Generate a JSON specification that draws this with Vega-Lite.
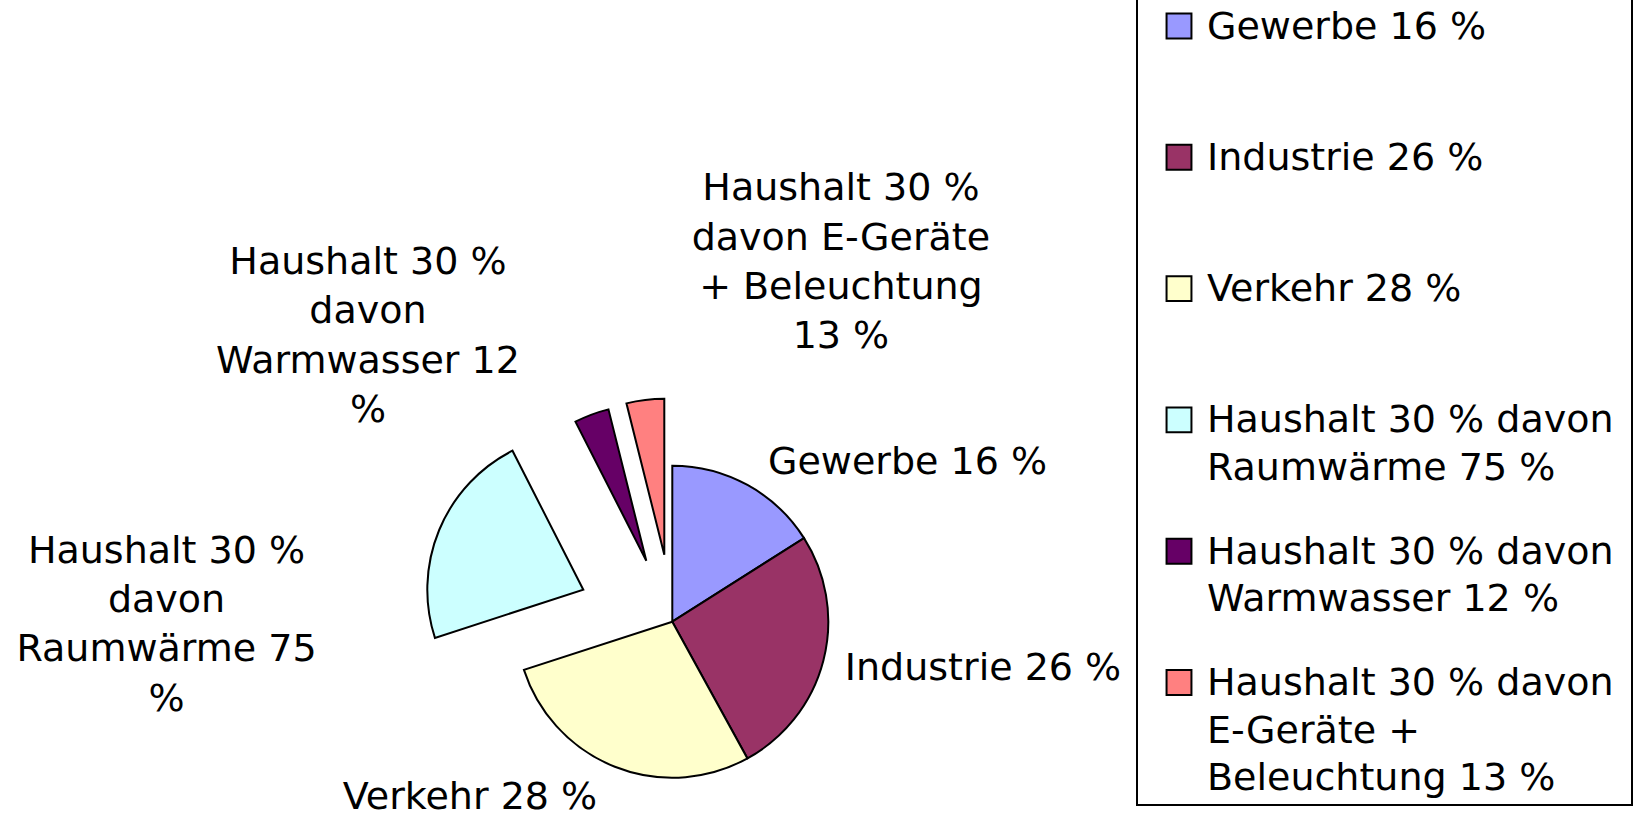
{
  "$schema": "https://vega.github.io/schema/vega-lite/v6.json",
  "padding": {"left": 0, "top": -3, "right": 0, "bottom": 0},
  "bounds": "flush",
  "spacing": 0,
  "background": "white",
  "config": {"view": {"stroke": null}, "font": "DejaVu Sans"},
  "datasets": {
    "sektoren": [
      {"Nr": 1, "Sektor": "Gewerbe", "Anteil": 16, "Beschriftung": "Gewerbe 16 %", "Legende": "Gewerbe 16 %"},
      {"Nr": 2, "Sektor": "Industrie", "Anteil": 26, "Beschriftung": "Industrie 26 %", "Legende": "Industrie 26 %"},
      {"Nr": 3, "Sektor": "Verkehr", "Anteil": 28, "Beschriftung": "Verkehr 28 %", "Legende": "Verkehr 28 %"},
      {"Nr": 4, "Sektor": "Haushalt Raumwärme", "Anteil": 22.5, "Beschriftung": "Haushalt 30 %\ndavon\nRaumwärme 75\n%", "Legende": "Haushalt 30 % davon\nRaumwärme 75 %"},
      {"Nr": 5, "Sektor": "Haushalt Warmwasser", "Anteil": 3.6, "Beschriftung": "Haushalt 30 %\ndavon\nWarmwasser 12\n%", "Legende": "Haushalt 30 % davon\nWarmwasser 12 %"},
      {"Nr": 6, "Sektor": "Haushalt E-Geräte", "Anteil": 3.9, "Beschriftung": "Haushalt 30 %\ndavon E-Geräte\n+ Beleuchtung\n13 %", "Legende": "Haushalt 30 % davon\nE-Geräte +\nBeleuchtung 13 %"}
    ]
  },
  "hconcat": [
    {
      "width": 1137,
      "height": 819,
      "data": {"name": "sektoren"},
      "encoding": {
        "theta": {"field": "Anteil", "type": "quantitative", "stack": true},
        "order": {"field": "Nr", "type": "quantitative"}
      },
      "layer": [
        {
          "mark": {"type": "arc", "outerRadius": 156, "stroke": "black", "strokeWidth": 2, "xOffset": 103.8, "yOffset": 214.2},
          "encoding": {
            "color": {"field": "Sektor", "type": "nominal", "legend": null,
              "scale": {"domain": ["Gewerbe", "Industrie", "Verkehr", "Haushalt Raumwärme", "Haushalt Warmwasser", "Haushalt E-Geräte"],
                        "range": ["#9999FF", "#993366", "#FFFFCC", "#CCFFFF", "#660066", "#FF8080"]}},
            "opacity": {"condition": {"test": "datum.Nr <= 3", "value": 1}, "value": 0}
          }
        },
        {
          "mark": {"type": "arc", "outerRadius": 156, "stroke": "black", "strokeWidth": 2, "xOffset": 14.8, "yOffset": 182.2},
          "encoding": {
            "color": {"field": "Sektor", "type": "nominal", "legend": null},
            "opacity": {"condition": {"test": "datum.Nr == 4", "value": 1}, "value": 0}
          }
        },
        {
          "mark": {"type": "arc", "outerRadius": 156, "stroke": "black", "strokeWidth": 2, "xOffset": 77.8, "yOffset": 153.2},
          "encoding": {
            "color": {"field": "Sektor", "type": "nominal", "legend": null},
            "opacity": {"condition": {"test": "datum.Nr == 5", "value": 1}, "value": 0}
          }
        },
        {
          "mark": {"type": "arc", "outerRadius": 156, "stroke": "black", "strokeWidth": 2, "xOffset": 95.8, "yOffset": 147.2},
          "encoding": {
            "color": {"field": "Sektor", "type": "nominal", "legend": null},
            "opacity": {"condition": {"test": "datum.Nr == 6", "value": 1}, "value": 0}
          }
        },
        {
          "mark": {"type": "text", "radius": 175, "xOffset": 103.8, "yOffset": 214.2, "dx": 150.9, "dy": 5.4, "align": "center", "baseline": "alphabetic", "fontSize": 38, "font": "DejaVu Sans", "color": "black"},
          "encoding": {"detail": {"field": "Sektor"}, "text": {"condition": {"test": "datum.Nr == 1", "field": "Beschriftung", "type": "nominal"}, "value": ""}}
        },
        {
          "mark": {"type": "text", "radius": 175, "xOffset": 103.8, "yOffset": 214.2, "dx": 141.2, "dy": 14.8, "align": "center", "baseline": "alphabetic", "fontSize": 38, "font": "DejaVu Sans", "color": "black"},
          "encoding": {"detail": {"field": "Sektor"}, "text": {"condition": {"test": "datum.Nr == 2", "field": "Beschriftung", "type": "nominal"}, "value": ""}}
        },
        {
          "mark": {"type": "text", "radius": 175, "xOffset": 103.8, "yOffset": 214.2, "dx": -137.9, "dy": 24.6, "align": "center", "baseline": "alphabetic", "fontSize": 38, "font": "DejaVu Sans", "color": "black"},
          "encoding": {"detail": {"field": "Sektor"}, "text": {"condition": {"test": "datum.Nr == 3", "field": "Beschriftung", "type": "nominal"}, "value": ""}}
        },
        {
          "mark": {"type": "text", "radius": 175, "xOffset": 14.8, "yOffset": 182.2, "dx": -255.1, "dy": 10, "align": "center", "baseline": "top", "fontSize": 38, "lineHeight": 49.3, "lineBreak": "\n", "font": "DejaVu Sans", "color": "black"},
          "encoding": {"detail": {"field": "Sektor"}, "text": {"condition": {"test": "datum.Nr == 4", "field": "Beschriftung", "type": "nominal"}, "value": ""}}
        },
        {
          "mark": {"type": "text", "radius": 175, "xOffset": 77.8, "yOffset": 153.2, "dx": -217, "dy": -152.8, "align": "center", "baseline": "top", "fontSize": 38, "lineHeight": 49.3, "lineBreak": "\n", "font": "DejaVu Sans", "color": "black"},
          "encoding": {"detail": {"field": "Sektor"}, "text": {"condition": {"test": "datum.Nr == 5", "field": "Beschriftung", "type": "nominal"}, "value": ""}}
        },
        {
          "mark": {"type": "text", "radius": 175, "xOffset": 95.8, "yOffset": 147.2, "dx": 198, "dy": -210.7, "align": "center", "baseline": "top", "fontSize": 38, "lineHeight": 49.3, "lineBreak": "\n", "font": "DejaVu Sans", "color": "black"},
          "encoding": {"detail": {"field": "Sektor"}, "text": {"condition": {"test": "datum.Nr == 6", "field": "Beschriftung", "type": "nominal"}, "value": ""}}
        }
      ]
    },
    {
      "width": 495,
      "height": 807,
      "view": {"stroke": "black", "strokeWidth": 2},
      "data": {"name": "sektoren"},
      "encoding": {
        "y": {"field": "Sektor", "type": "nominal", "axis": null,
              "sort": ["Gewerbe", "Industrie", "Verkehr", "Haushalt Raumwärme", "Haushalt Warmwasser", "Haushalt E-Geräte"],
              "scale": {"type": "point", "padding": 0, "range": [28, 684.5]}}
      },
      "layer": [
        {
          "mark": {"type": "point", "shape": "square", "size": 620, "filled": true, "opacity": 1, "stroke": "black", "strokeWidth": 2, "xOffset": -205.5},
          "encoding": {
            "color": {"field": "Sektor", "type": "nominal", "legend": null,
              "scale": {"domain": ["Gewerbe", "Industrie", "Verkehr", "Haushalt Raumwärme", "Haushalt Warmwasser", "Haushalt E-Geräte"],
                        "range": ["#9999FF", "#993366", "#FFFFCC", "#CCFFFF", "#660066", "#FF8080"]}}
          }
        },
        {
          "mark": {"type": "text", "align": "left", "baseline": "top", "fontSize": 38, "lineHeight": 47.5, "lineBreak": "\n", "font": "DejaVu Sans", "color": "black", "xOffset": -177.5, "yOffset": -17.5},
          "encoding": {"text": {"field": "Legende", "type": "nominal"}}
        }
      ]
    }
  ]
}
